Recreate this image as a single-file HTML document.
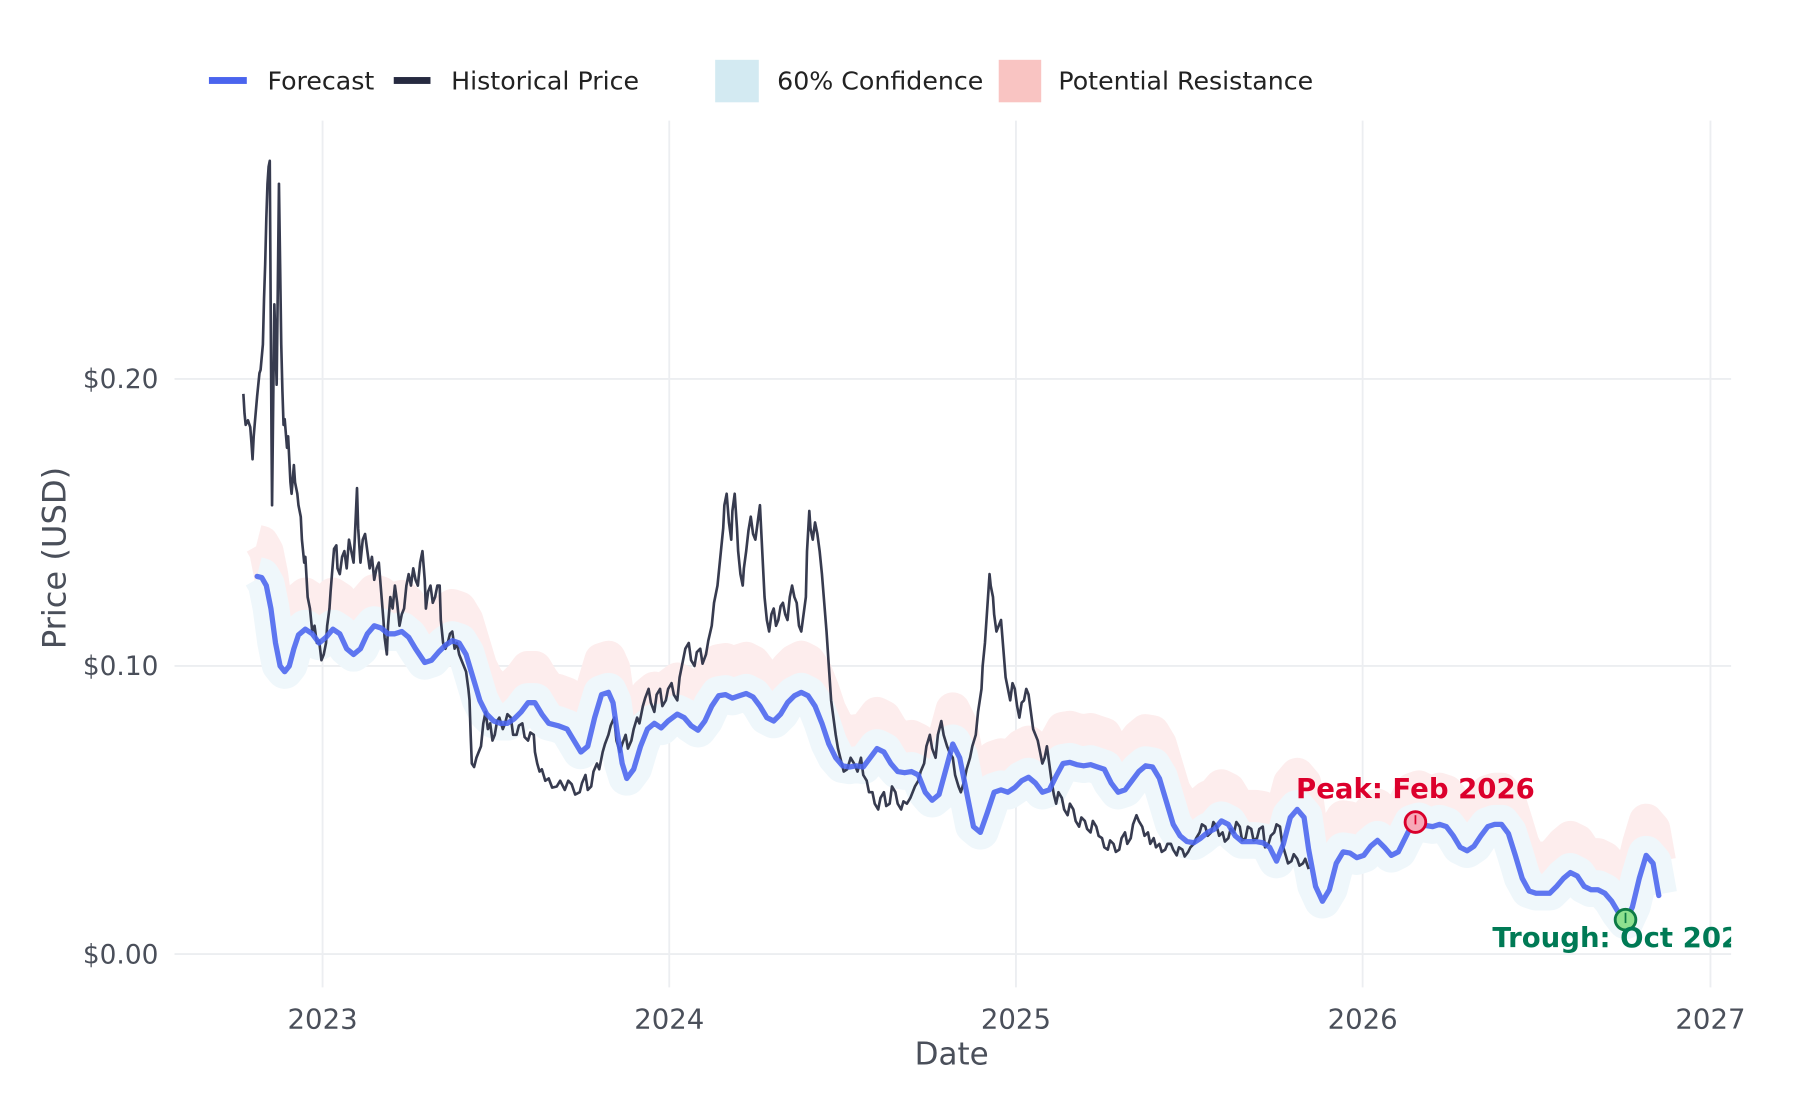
<!DOCTYPE html>
<html><head><meta charset="utf-8"><style>
html,body{margin:0;padding:0;background:#fff}
svg{display:block}
text{font-family:"DejaVu Sans","Liberation Sans",sans-serif}
</style></head><body>
<svg width="1800" height="1100" viewBox="0 0 1568 958" xmlns="http://www.w3.org/2000/svg">
<defs><clipPath id="c"><rect x="152" y="100" width="1356" height="760"/></clipPath>
<polyline id="fc" fill="none" stroke-linejoin="round" points="224,502 228,503 232,510 236,530 240,560 244,580 248,585 252,580 256,565 260,553 266,548 272,552 278,560 284,555 290,548 296,552 302,565 308,570 314,565 320,552 326,545 332,547 338,552 344,552 350,550 356,555 362,565 370,577 376,575 382,568 388,562 394,558 400,560 406,570 412,590 418,610 424,622 430,628 436,630 442,630 448,626 454,620 460,612 466,612 472,622 478,630 486,632 494,635 500,645 506,655 512,650 518,625 524,605 530,603 534,612 538,640 542,665 546,678 552,670 558,650 564,635 570,630 576,634 582,628 590,622 596,625 602,632 608,636 614,628 620,615 626,606 632,605 638,608 644,606 650,604 656,607 662,615 668,625 674,628 680,622 686,612 692,606 698,603 704,606 710,615 716,630 722,648 728,660 734,667 740,668 746,667 752,668 758,660 764,652 770,655 776,665 782,672 788,673 794,672 800,675 806,690 812,697 818,692 824,670 830,648 836,660 842,690 848,720 854,725 860,708 866,690 872,688 878,690 884,686 890,680 896,677 902,682 908,690 914,688 920,676 926,665 932,664 938,666 944,667 950,666 956,668 962,670 968,682 974,690 980,688 986,680 992,672 998,667 1004,668 1010,678 1016,698 1022,718 1028,728 1034,733 1040,734 1046,730 1052,725 1058,722 1064,715 1070,718 1076,728 1082,733 1088,733 1094,733 1100,734 1106,738 1112,750 1118,735 1124,712 1130,705 1136,712 1140,740 1146,772 1152,785 1158,775 1164,752 1170,742 1176,743 1182,747 1188,745 1194,737 1200,732 1206,738 1212,745 1218,742 1224,730 1230,718 1236,716 1242,719 1248,720 1254,718 1260,720 1266,728 1272,738 1278,741 1284,737 1290,728 1296,720 1302,718 1308,718 1314,726 1320,745 1326,765 1332,776 1338,778 1344,778 1350,778 1356,772 1362,765 1368,760 1374,763 1380,772 1386,775 1392,775 1398,778 1404,785 1410,795 1416,803 1422,790 1428,765 1434,745 1440,752 1445,780"/>
</defs>
<g stroke="#eceef1" stroke-width="1.6">
<line x1="281" y1="105" x2="281" y2="860"/><line x1="583" y1="105" x2="583" y2="860"/>
<line x1="885" y1="105" x2="885" y2="860"/><line x1="1187" y1="105" x2="1187" y2="860"/>
<line x1="1490" y1="105" x2="1490" y2="860"/>
<line x1="152" y1="330" x2="1508" y2="330"/><line x1="152" y1="580" x2="1508" y2="580"/>
<line x1="152" y1="831" x2="1508" y2="831"/>
</g>
<g clip-path="url(#c)">
<use href="#fc" transform="translate(0,-30)" stroke="#fdeded" stroke-width="30"/>
<use href="#fc" transform="translate(0,-1)" stroke="#eff7fb" stroke-width="32"/>
<polyline fill="none" stroke="#262a40" stroke-width="2.3" stroke-opacity="0.92" stroke-linejoin="round" points="212,343 213,360 214,370 216,366 218,372 219,385 220,400 221,380 222,368 224,345 226,325 227,322 229,300 230,260 231,230 232,190 233,160 234,145 235,140 235.5,220 236,300 236.5,380 237,440 238,350 239,265 240,300 241,335 242,250 243,160 244,230 245,300 246,340 247,370 248,365 250,390 251,380 253,420 254,430 256,405 257,420 259,430 260,440 262,450 263,470 265,490 266,485 268,520 270,530 272,550 274,545 276,560 278,558 280,575 282,570 284,560 285,545 287,530 288,515 290,490 291,478 293,475 294,495 296,500 298,485 300,480 302,495 304,470 306,480 308,490 309,470 311,425 312,460 314,490 316,470 318,465 320,480 322,495 324,485 326,505 328,495 330,490 332,515 334,540 335,555 337,570 338,545 340,520 342,530 344,510 346,525 348,545 350,535 352,530 354,510 356,500 358,510 360,495 362,505 364,510 366,490 368,480 370,505 371,530 373,515 375,510 377,525 379,520 381,510 383,510 384,540 386,560 388,565 390,560 392,552 394,550 396,565 398,560 400,570 402,575 404,580 406,585 408,600 409,610 410,640 411,665 413,668 415,660 417,655 419,650 421,630 423,620 425,635 427,630 429,645 431,640 433,628 435,625 438,635 440,630 442,622 445,625 447,640 450,640 452,632 455,630 457,642 460,645 462,638 465,640 466,655 468,665 470,672 472,670 475,680 478,678 481,686 485,685 488,680 492,688 495,680 498,683 501,692 505,690 507,682 510,675 512,688 515,685 517,672 520,665 522,670 525,655 527,648 530,640 532,632 535,625 537,645 540,655 542,648 545,640 547,652 550,645 552,635 555,625 557,630 560,615 562,608 565,600 567,612 570,620 572,605 575,600 577,615 580,610 582,600 585,595 587,605 590,610 592,590 595,575 597,565 600,560 602,575 605,580 607,568 610,565 612,578 615,570 617,558 620,545 622,525 625,510 627,490 630,460 631,440 633,430 635,455 637,470 638,445 640,430 642,460 643,480 645,500 647,510 648,495 650,480 652,462 654,450 656,465 658,470 660,455 662,440 664,480 666,520 668,540 670,550 672,535 674,530 676,545 678,540 680,528 682,525 684,535 686,540 688,520 690,510 692,520 694,525 696,545 698,550 700,535 702,520 703,480 705,445 706,460 708,470 710,455 712,465 714,480 716,500 718,525 720,550 722,580 724,610 726,625 728,640 730,652 732,660 735,672 738,670 741,660 744,665 747,672 750,660 752,675 755,680 757,690 760,690 762,700 765,705 767,695 770,690 772,702 775,700 777,685 780,690 782,700 785,705 787,698 790,700 793,695 795,690 797,685 800,680 802,672 805,665 807,650 810,640 812,652 815,660 817,640 820,628 822,640 825,650 827,655 830,660 832,675 835,685 837,690 840,680 842,670 845,660 847,650 850,640 852,620 855,600 856,580 858,560 860,530 862,500 863,510 865,520 866,535 868,550 870,545 872,540 874,565 876,590 878,600 880,610 882,595 884,600 886,615 888,625 890,612 892,610 894,600 896,605 898,620 900,635 902,640 904,645 906,655 908,665 910,660 912,650 914,665 916,680 918,692 920,700 922,690 925,695 927,705 930,710 932,700 935,705 937,715 940,720 942,712 945,715 947,722 950,725 952,715 955,720 957,728 960,730 962,738 965,740 967,732 970,735 972,742 975,740 977,730 980,725 982,735 985,730 987,718 990,710 992,715 995,720 997,728 1000,725 1002,735 1005,730 1007,738 1010,735 1012,742 1015,740 1017,735 1020,735 1022,740 1025,745 1027,738 1030,740 1032,746 1035,742 1037,738 1040,735 1042,730 1045,725 1047,718 1050,720 1052,728 1055,725 1057,716 1060,720 1062,728 1065,725 1067,733 1070,730 1072,722 1075,725 1077,716 1080,720 1082,732 1085,730 1087,720 1090,722 1092,732 1095,730 1097,722 1100,720 1102,738 1105,735 1107,728 1110,725 1112,718 1115,720 1117,735 1120,745 1122,752 1125,750 1127,744 1130,748 1132,754 1135,752 1137,748 1140,757"/>
<use href="#fc" stroke="#4a64ee" stroke-width="4.6" stroke-opacity="0.88" stroke-linecap="round"/>
</g>
<g fill="#4a4f5a" font-size="23">
<text x="138" y="338" text-anchor="end">$0.20</text>
<text x="138" y="588" text-anchor="end">$0.10</text>
<text x="138" y="839" text-anchor="end">$0.00</text>
</g>
<g fill="#4a4f5a" font-size="24" text-anchor="middle">
<text x="281" y="896">2023</text>
<text x="583" y="896">2024</text>
<text x="885" y="896">2025</text>
<text x="1187" y="896">2026</text>
<text x="1490" y="896">2027</text>
</g>
<text x="829" y="927" text-anchor="middle" font-size="27" fill="#4a4f5a">Date</text>
<text transform="translate(57,486) rotate(-90)" text-anchor="middle" font-size="28" fill="#4a4f5a">Price (USD)</text>
<g font-size="22" fill="#222">
<rect x="182" y="67" width="33" height="6" fill="#4a64ee"/><text x="233" y="78">Forecast</text>
<rect x="343" y="67" width="32" height="6" fill="#262a40"/><text x="393" y="78">Historical Price</text>
<rect x="623" y="52" width="38" height="37" fill="#d3eaf2"/><text x="677" y="78">60% Confidence</text>
<rect x="870" y="52" width="37" height="37" fill="#f9c4c2"/><text x="922" y="78">Potential Resistance</text>
</g>
<circle cx="1233" cy="716" r="9" fill="#f7a9b8" stroke="#d9002b" stroke-width="2.5"/>
<line x1="1233" y1="710" x2="1233" y2="718" stroke="#d9002b" stroke-width="1.5"/>
<text x="1233" y="695" text-anchor="middle" font-size="24" font-weight="bold" fill="#dc002c">Peak: Feb 2026</text>
<circle cx="1416" cy="801" r="9" fill="#8ee08f" stroke="#0c7a45" stroke-width="2.5"/>
<line x1="1416" y1="795" x2="1416" y2="804" stroke="#0c7a45" stroke-width="1.5"/>
<g clip-path="url(#c)"><text x="1300" y="825" font-size="24" font-weight="bold" fill="#007a55">Trough: Oct 2026</text></g>
</svg>
</body></html>
